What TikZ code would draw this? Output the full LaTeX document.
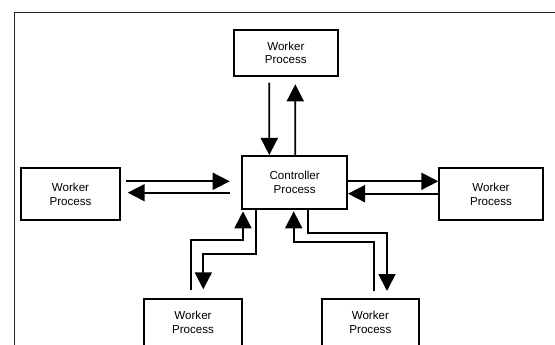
\documentclass[tikz,border=0pt]{standalone}
\usepackage{fontspec}
\setmainfont{Liberation Sans}
\usetikzlibrary{arrows.meta,calc}
\begin{document}
\begin{tikzpicture}[x=1pt,y=-1pt,
  proc/.style={draw,line width=2pt,align=center,inner sep=0pt,
    font=\fontsize{11.6}{13.6}\selectfont},
  link/.style={line width=1.8pt,-{Triangle[length=17pt,width=17pt]}}]
\clip (0,0) rectangle (555,345);
\fill[white] (0,0) rectangle (555,345);
% outer frame (only its top and left edges fall inside the page)
\draw[line width=1.6pt,black!85] (14.3,400) -- (14.3,12.7) -- (600,12.7);

% processes
\node[proc,minimum width=103.7pt,minimum height=46pt] (top) at (285.85,53) {Worker\\Process};
\node[proc,minimum width=104.7pt,minimum height=53pt] (ctrl) at (294.65,182.5) {Controller\\Process};
\node[proc,minimum width=99pt,minimum height=52pt] (left) at (70.5,194.3) {Worker\\Process};
\node[proc,minimum width=103.4pt,minimum height=52pt] (right) at (491,194.3) {Worker\\Process};
\node[proc,minimum width=98pt,minimum height=48pt] (bl) at (193,322.5) {Worker\\Process};
\node[proc,minimum width=96.7pt,minimum height=48pt] (br) at (370.35,322.5) {Worker\\Process};

% top worker
\draw[link] ($(top.south)+(-16.55,5.7)$) -- ($(ctrl.north)+(-25.35,0)$);
\draw[link] ($(ctrl.north)+(0.65,0)$) -- ($(top.south)+(9.45,7.3)$);

% left worker
\draw[link] ($(left.east)+(5,-13)$) -- ($(ctrl.west)+(-11.6,-1.2)$);
\draw[link] ($(ctrl.west)+(-11.6,10.2)$) -- ($(left.east)+(6.7,-1.6)$);

% right worker
\draw[link] ($(ctrl.east)+(0,-1.2)$) -- ($(right.west)+(0,-13)$);
\draw[link] ($(right.west)+(0,-0.6)$) -- ($(ctrl.east)+(0,11.2)$);

% bottom-left worker
\draw[link] ($(bl.north)+(-2,-7.2)$) -- ++(0,-50) -| ($(ctrl.south west)+(1.7,1.3)$);
\draw[link] ($(ctrl.south west)+(14.4,0)$) -- ++(0,44) -| ($(bl.north)+(10.3,-8.2)$);

% bottom-right worker
\draw[link] ($(br.north)+(3.95,-6.5)$) -- ++(0,-49) -| ($(ctrl.south)+(-0.95,1.3)$);
\draw[link] ($(ctrl.south)+(13.35,0)$) -- ++(0,23) -| ($(br.north)+(16.65,-6.5)$);
\end{tikzpicture}
\end{document}
